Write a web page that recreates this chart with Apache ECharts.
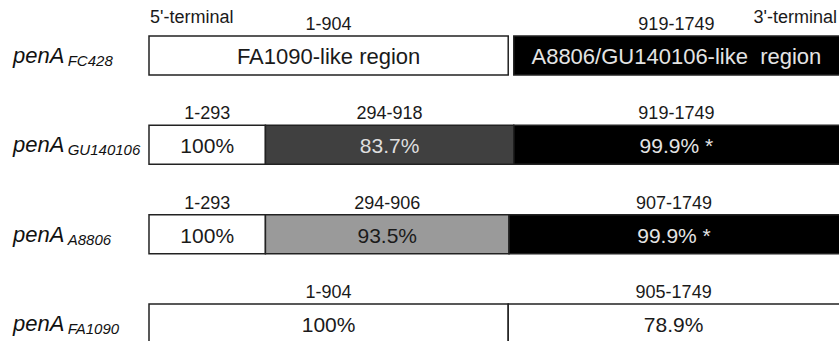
<!DOCTYPE html>
<html>
<head>
<meta charset="utf-8">
<script src="https://cdn.jsdelivr.net/npm/echarts@6/dist/echarts.min.js"></script>
<style>
html,body{margin:0;padding:0;background:#fff;}
#chart{width:839px;height:341px;}
</style>
</head>
<body>
<div id="chart"></div>
<script>
// ---- data ----
const strains = ['FC428', 'GU140106', 'A8806', 'FA1090'];
const segRow   = [0, 0, 1, 1, 1, 2, 2, 2, 3, 3];
const segStart = [1, 919, 1, 294, 919, 1, 294, 907, 1, 905];
const segEnd   = [904, 1749, 293, 918, 1749, 293, 906, 1749, 904, 1749];
const segText  = ['FA1090-like region', 'A8806/GU140106-like  region',
                  '100%', '83.7%', '99.9% *',
                  '100%', '93.5%', '99.9% *',
                  '100%', '78.9%'];
const segShade = ['white', 'black', 'white', 'dark', 'black', 'white', 'gray', 'black', 'white', 'white'];
const geneLength = 1749;
const endLabels = ["5'-terminal", "3'-terminal"];

// ---- styles ----
const FONT = "'Liberation Sans', Arial, sans-serif";
const fills = { white: '#ffffff', dark: '#404040', gray: '#9a9a9a', black: '#000000' };
const textColors = { white: '#1a1a1a', dark: '#dedede', gray: '#1a1a1a', black: '#e4e4e4' };
const rowFontSize = [22, 21, 21, 21];

const seriesData = segStart.map((s, i) => [s - 1, segEnd[i], segRow[i], i]);

const chart = echarts.init(document.getElementById('chart'), null, { renderer: 'svg' });

chart.setOption({
  animation: false,
  backgroundColor: '#ffffff',
  grid: { left: 149, right: -5, top: 10.8, bottom: -27.2, containLabel: false, outerBoundsMode: 'none' },
  xAxis: { type: 'value', min: 0, max: geneLength, show: false },
  yAxis: {
    type: 'category', data: strains, inverse: true,
    axisLine: { show: false }, axisTick: { show: false }, splitLine: { show: false },
    axisLabel: {
      align: 'left', margin: 136,
      formatter: v => '{a|penA} {b|' + v + '}',
      rich: {
        a: { fontFamily: FONT, fontSize: 22, fontStyle: 'italic', color: '#111', lineHeight: 25 },
        b: { fontFamily: FONT, fontSize: 15, fontStyle: 'italic', color: '#111', lineHeight: 15, verticalAlign: 'bottom' }
      }
    }
  },
  graphic: [
    { type: 'text', left: 150, top: 8, style: { text: endLabels[0], font: '18px ' + FONT, fill: '#1a1a1a' } },
    { type: 'text', right: 2, top: 8, style: { text: endLabels[1], font: '18px ' + FONT, fill: '#1a1a1a' } }
  ],
  series: [{
    type: 'custom',
    encode: { x: [0, 1], y: 2 },
    data: seriesData,
    clip: false,
    renderItem: function (params, api) {
      const idx = api.value(3);
      const row = api.value(2);
      const p0 = api.coord([api.value(0), row]);
      const p1 = api.coord([api.value(1), row]);
      const h = api.size([0, 1])[1] * 0.437;
      const top = p0[1] - h / 2;
      const x0 = p0[0], x1 = p1[0];
      const visRight = Math.min(x1, 839);
      const cx = (x0 + visRight) / 2;
      const shade = segShade[idx];
      return {
        type: 'group',
        children: [
          { type: 'rect', shape: { x: x0, y: top, width: x1 - x0, height: h },
            style: { fill: fills[shade], stroke: '#222', lineWidth: 1.5 } },
          { type: 'text', x: cx, y: p0[1] + 1,
            style: { text: segText[idx], font: rowFontSize[row] + 'px ' + FONT, fill: textColors[shade],
                     align: 'center', verticalAlign: 'middle' } },
          { type: 'text', x: cx, y: top - 3,
            style: { text: segStart[idx] + '-' + segEnd[idx], font: '18px ' + FONT, fill: '#1a1a1a',
                     align: 'center', verticalAlign: 'bottom' } }
        ]
      };
    }
  }]
});
</script>
</body>
</html>
